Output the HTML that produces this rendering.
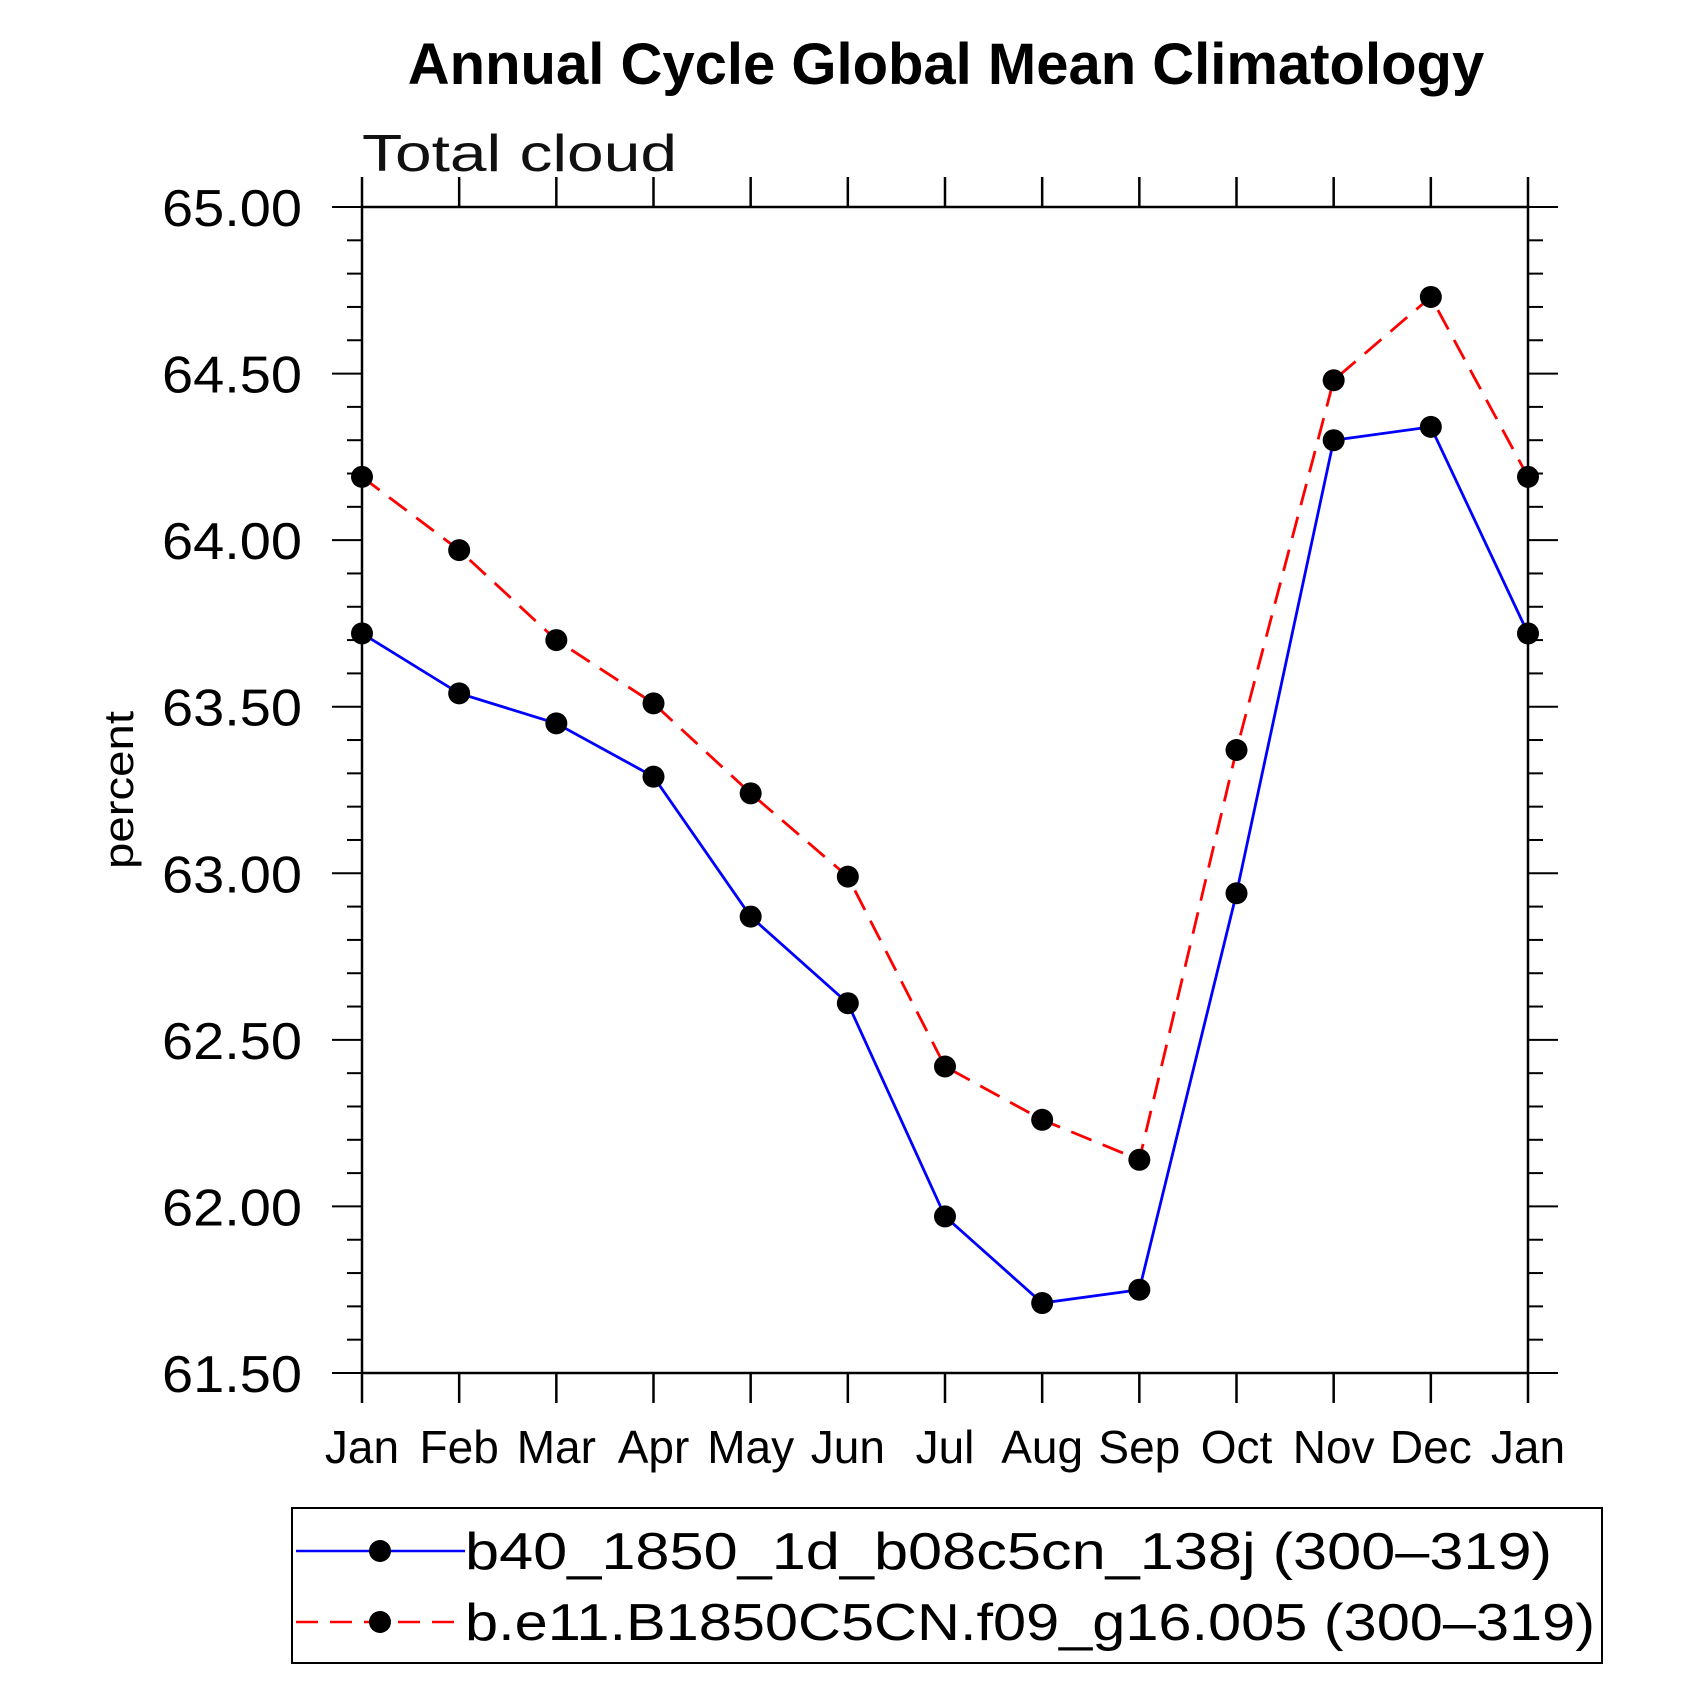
<!DOCTYPE html>
<html><head><meta charset="utf-8"><style>body{margin:0;background:#fff}svg{display:block}</style></head>
<body>
<svg id="chart" width="1703" height="1703" viewBox="0 0 1703 1703" xmlns="http://www.w3.org/2000/svg" font-family="Liberation Sans, sans-serif">
<text x="946" y="84" text-anchor="middle" font-size="58" font-weight="bold">Annual Cycle Global Mean Climatology</text>
<text x="362" y="171" font-size="52" textLength="315" lengthAdjust="spacingAndGlyphs" fill="#111">Total cloud</text>
<text transform="translate(133,790) rotate(-90)" text-anchor="middle" font-size="42" textLength="158" lengthAdjust="spacingAndGlyphs">percent</text>
<g id="axes"></g>
<g id="series"></g>
<g id="legend">
<rect x="292" y="1508" width="1310" height="155" fill="none" stroke="#000" stroke-width="2"/>
<g>
<line x1="296" y1="1551" x2="465" y2="1551" stroke="#0000ff" stroke-width="2.5"/>
<circle cx="380" cy="1551" r="11"/>
<text x="465" y="1569" font-size="52" textLength="1087" lengthAdjust="spacingAndGlyphs">b40_1850_1d_b08c5cn_138j (300–319)</text>
</g>
<g>
<line x1="296" y1="1622" x2="465" y2="1622" stroke="#ff0000" stroke-width="2.5" stroke-dasharray="22,12"/>
<circle cx="380" cy="1622" r="11"/>
<text x="465" y="1640" font-size="52" textLength="1130" lengthAdjust="spacingAndGlyphs">b.e11.B1850C5CN.f09_g16.005 (300–319)</text>
</g>
</g>
</svg>
<script>
const months = ["Jan","Feb","Mar","Apr","May","Jun","Jul","Aug","Sep","Oct","Nov","Dec","Jan"];
const blueValues = [63.72,63.54,63.45,63.29,62.87,62.61,61.97,61.71,61.75,62.94,64.30,64.34,63.72];
const redValues = [64.19,63.97,63.70,63.51,63.24,62.99,62.42,62.26,62.14,63.37,64.48,64.73,64.19];
const yTickLabels = ["61.50","62.00","62.50","63.00","63.50","64.00","64.50","65.00"];

const L=362,R=1528,T=207,B=1373,yMin=61.5,yMax=65;
const NS="http://www.w3.org/2000/svg";
function x(i){return L+(R-L)*i/(months.length-1);}
function y(v){return B-(B-T)*(v-yMin)/(yMax-yMin);}
function mk(tag,attrs,parent){const e=document.createElementNS(NS,tag);for(const k in attrs)e.setAttribute(k,attrs[k]);parent.appendChild(e);return e;}
const axes=document.getElementById('axes');
const frame=mk('rect',{x:L,y:T,width:R-L,height:B-T,fill:'none',stroke:'#000','stroke-width':2.5},axes);


for(let i=0;i<months.length;i++){
  const xx=x(i);
  mk('line',{x1:xx,y1:B,x2:xx,y2:B+30,stroke:'#000','stroke-width':2.5},axes);
  mk('line',{x1:xx,y1:T,x2:xx,y2:T-30,stroke:'#000','stroke-width':2.5},axes);
  const t=mk('text',{x:xx,y:1463,'text-anchor':'middle','font-size':46},axes);
  t.textContent=months[i];
  
  
}
for(let k=0;k<=35;k++){
  const v=yMin+k*0.1, yy=y(v), major=k%5===0, len=major?30:15;
  mk('line',{x1:L,y1:yy,x2:L-len,y2:yy,stroke:'#000','stroke-width':2},axes);
  mk('line',{x1:R,y1:yy,x2:R+len,y2:yy,stroke:'#000','stroke-width':2},axes);
}
yTickLabels.forEach(s=>{
  const t=mk('text',{x:302,y:y(parseFloat(s))+19,'text-anchor':'end','font-size':52,textLength:140,lengthAdjust:'spacingAndGlyphs'},axes);
  t.textContent=s;
  
  
});
const series=document.getElementById('series');
function draw(vals,color,dash,name){
  const g=mk('g',{},series);
  
  
  const pts=vals.map((v,i)=>x(i)+','+y(v)).join(' ');
  const attrs={points:pts,fill:'none',stroke:color,'stroke-width':2.8};
  if(dash)attrs['stroke-dasharray']=dash;
  const pl=mk('polyline',attrs,g);
  
  
  vals.forEach((v,i)=>{
    const c=mk('circle',{cx:x(i),cy:y(v),r:11,fill:'#000'},g);
    
    
  });
}
draw(redValues,'#ff0000','22,12','series-red');
draw(blueValues,'#0000ff',null,'series-blue');
</script>
</body></html>
